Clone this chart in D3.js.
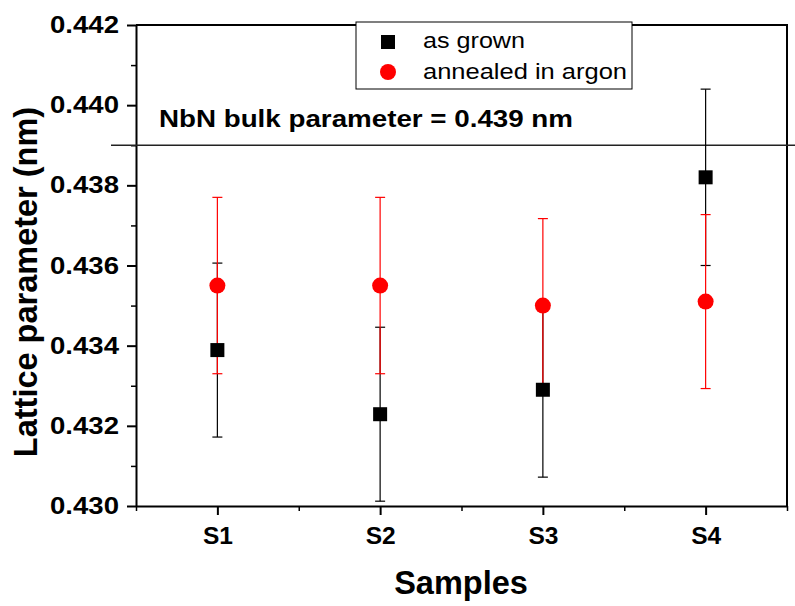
<!DOCTYPE html>
<html>
<head>
<meta charset="utf-8">
<script src="https://cdn.jsdelivr.net/npm/d3@7"></script>
<style>
  html, body { margin: 0; padding: 0; background: #fff; }
  text { font-family: Arial, "Liberation Sans", sans-serif; }
</style>
</head>
<body>
<div id="chart"></div>
<script>
// samples and measured lattice parameters (nm)
const samples = ["S1", "S2", "S3", "S4"];
const asGrown = [0.43389, 0.43229, 0.4329, 0.4382];
const asGrownErr = [0.00217, 0.00217, 0.00218, 0.0022];
const annealed = [0.4355, 0.4355, 0.435, 0.4351];
const annealedErr = [0.0022, 0.0022, 0.00217, 0.00217];
const yTicks = [0.430, 0.432, 0.434, 0.436, 0.438, 0.440, 0.442];
const bulkValue = 0.439;

const width = 795, height = 606;
const margin = {top: 25, right: 8, bottom: 100, left: 136};

const svg = d3.select("#chart")
  .append("svg")
  .attr("width", width)
  .attr("height", height);

// x runs from 0.5 to 4.5 so the samples sit at 1..4
let x = d3.scaleLinear()
  .domain([0.5, 4.5])
  .range([margin.left, width - margin.right]);

let y = d3.scaleLinear()
  .domain([0.430, 0.442])
  .range([height - margin.bottom, margin.top]);

const x0 = x.range()[0], x1 = x.range()[1];
const y0 = y.range()[0], y1 = y.range()[1];

// frame (top + right, no ticks)
svg.append("path")
  .attr("d", `M${x0},${y1}H${x1}V${y0}`)
  .attr("fill", "none")
  .attr("stroke", "#000")
  .attr("stroke-width", 2);

// minor ticks
const yMinor = d3.range(0.431, 0.442, 0.002);
svg.append("g")
  .attr("transform", `translate(${x0},0)`)
  .call(d3.axisLeft(y).tickValues(yMinor).tickSize(5).tickFormat(""))
  .call(g => g.select(".domain").remove())
  .selectAll("line").attr("stroke-width", 1.5);

svg.append("g")
  .attr("transform", `translate(0,${y0})`)
  .call(d3.axisBottom(x).tickValues([0.5, 1.5, 2.5, 3.5, 4.5]).tickSize(5).tickFormat(""))
  .call(g => g.select(".domain").remove())
  .selectAll("line").attr("stroke-width", 1.5);

// left axis
const yAxis = svg.append("g")
  .attr("transform", `translate(${x0},0)`)
  .call(d3.axisLeft(y).tickValues(yTicks).tickSize(9).tickSizeOuter(0).tickPadding(8)
    .tickFormat(d3.format(".3f")));
yAxis.select(".domain").attr("stroke-width", 2);
yAxis.selectAll(".tick line").attr("stroke-width", 2);
yAxis.selectAll(".tick text")
  .attr("font-size", 23.5)
  .attr("font-weight", "bold")
  .attr("textLength", 69)
  .attr("lengthAdjust", "spacingAndGlyphs")
  .attr("fill", "#000");

// bottom axis
const xAxis = svg.append("g")
  .attr("transform", `translate(0,${y0})`)
  .call(d3.axisBottom(x).tickValues([1, 2, 3, 4]).tickSize(9).tickSizeOuter(0).tickPadding(12)
    .tickFormat((d, i) => samples[i]));
xAxis.select(".domain").attr("stroke-width", 2);
xAxis.selectAll(".tick line").attr("stroke-width", 2);
xAxis.selectAll(".tick text")
  .attr("font-size", 24)
  .attr("font-weight", "bold")
  .attr("textLength", 30)
  .attr("lengthAdjust", "spacingAndGlyphs")
  .attr("fill", "#000");

// axis titles
svg.append("text")
  .attr("x", 461)
  .attr("y", 594)
  .attr("text-anchor", "middle")
  .attr("font-size", 32.5)
  .attr("font-weight", "bold")
  .text("Samples");

svg.append("text")
  .attr("transform", "translate(37,282) rotate(-90)")
  .attr("text-anchor", "middle")
  .attr("font-size", 32.5)
  .attr("font-weight", "bold")
  .text("Lattice parameter (nm)");

// bulk reference line
svg.append("line")
  .attr("x1", 111)
  .attr("x2", width)
  .attr("y1", y(bulkValue))
  .attr("y2", y(bulkValue))
  .attr("stroke", "#222")
  .attr("stroke-width", 1.3);

svg.append("text")
  .attr("x", 159)
  .attr("y", 127)
  .attr("font-size", 24.5)
  .attr("font-weight", "bold")
  .attr("textLength", 414)
  .attr("lengthAdjust", "spacingAndGlyphs")
  .text("NbN bulk parameter = 0.439 nm");

// error bars
function errorBars(vals, errs, color) {
  const g = svg.append("g").attr("stroke", color).attr("stroke-width", 1.2);
  vals.forEach((v, i) => {
    const cx = x(i + 1);
    g.append("line")
      .attr("x1", cx).attr("x2", cx)
      .attr("y1", y(v - errs[i])).attr("y2", y(v + errs[i]));
    [v - errs[i], v + errs[i]].forEach(e => {
      g.append("line")
        .attr("x1", cx - 5).attr("x2", cx + 5)
        .attr("y1", y(e)).attr("y2", y(e));
    });
  });
}

errorBars(asGrown, asGrownErr, "#000");
errorBars(annealed, annealedErr, "#ff0000");

svg.append("g")
  .selectAll("rect")
  .data(asGrown)
  .join("rect")
  .attr("x", (d, i) => x(i + 1) - 7)
  .attr("y", d => y(d) - 7)
  .attr("width", 14)
  .attr("height", 14)
  .attr("fill", "#000");

svg.append("g")
  .selectAll("circle")
  .data(annealed)
  .join("circle")
  .attr("cx", (d, i) => x(i + 1))
  .attr("cy", d => y(d))
  .attr("r", 8)
  .attr("fill", "#ff0000");

// legend
const legend = svg.append("g");
legend.append("rect")
  .attr("x", 356)
  .attr("y", 22)
  .attr("width", 276)
  .attr("height", 67)
  .attr("fill", "#fff")
  .attr("stroke", "#000")
  .attr("stroke-width", 1);

legend.append("rect")
  .attr("x", 381).attr("y", 35)
  .attr("width", 14).attr("height", 14)
  .attr("fill", "#000");
legend.append("circle")
  .attr("cx", 388).attr("cy", 72)
  .attr("r", 8)
  .attr("fill", "#ff0000");

legend.append("text")
  .attr("x", 423).attr("y", 48)
  .attr("font-size", 22)
  .attr("textLength", 102)
  .attr("lengthAdjust", "spacingAndGlyphs")
  .text("as grown");
legend.append("text")
  .attr("x", 423).attr("y", 79)
  .attr("font-size", 22)
  .attr("textLength", 204)
  .attr("lengthAdjust", "spacingAndGlyphs")
  .text("annealed in argon");
</script>
</body>
</html>
